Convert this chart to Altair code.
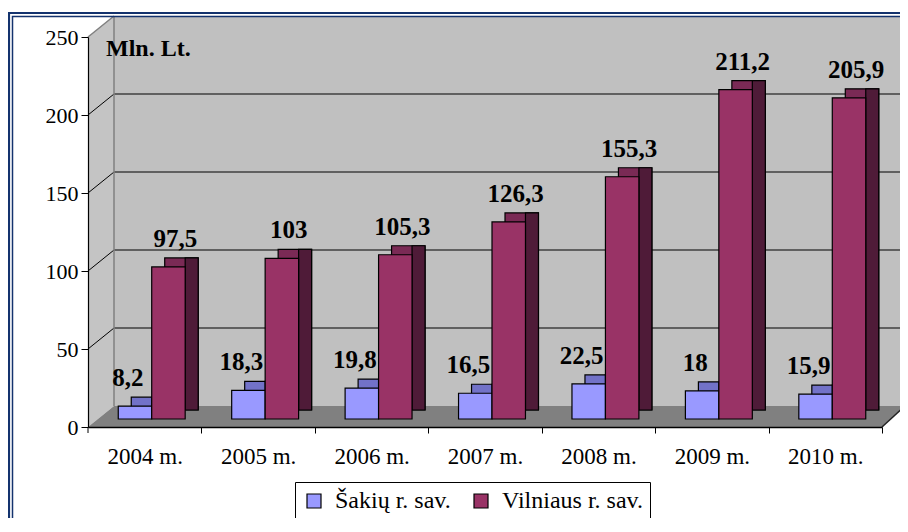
import altair as alt
import pandas as pd

# ---------------- data ----------------
years = ["2004 m.", "2005 m.", "2006 m.", "2007 m.", "2008 m.", "2009 m.", "2010 m."]
series = ["Šakių r. sav.", "Vilniaus r. sav."]
sakiai = [8.2, 18.3, 19.8, 16.5, 22.5, 18, 15.9]
vilnius = [97.5, 103, 105.3, 126.3, 155.3, 211.2, 205.9]
y_ticks = [0, 50, 100, 150, 200, 250]
grid_ticks = [50, 100, 150, 200]
unit_label = "Mln. Lt."

# ---------------- styles ----------------
front_colors = ["#9999FF", "#993366"]
top_colors = ["#7272C8", "#7A2A55"]
side_colors = ["#4C4C99", "#4F1B38"]
navy = "#14336E"
FONT = "Liberation Serif, Times New Roman, serif"

W, H = 794, 390          # front plane of the plot
DX, DY = 26, 21          # depth of the walls
DXR = 23                 # depth at the right end
BX, BY = 13, 9           # depth of a bar
BASE = 8                 # bars stand behind the front edge
SHIFT = 7                # horizontal shift of bars from perspective
STEP = W / len(years)
PAD_IN = 0.41
SUB = STEP * (1 - PAD_IN) / 2

rows = []
for i, yr in enumerate(years):
    rows.append({"year": yr, "series": series[0], "value": sakiai[i]})
    rows.append({"year": yr, "series": series[1], "value": vilnius[i]})
df = pd.DataFrame(rows)

x_scale = alt.Scale(domain=years, paddingInner=PAD_IN, paddingOuter=PAD_IN / 2)
y_scale = alt.Scale(domain=[0, 250], nice=False, zero=True)

one = pd.DataFrame({"k": [0]})


def xenc(axis=None):
    return alt.X("year:N", scale=x_scale, sort=years, axis=axis, title=None)


def xoenc(shift):
    return alt.XOffset(
        "series:N", sort=series,
        scale=alt.Scale(domain=series, paddingInner=0, paddingOuter=0,
                        range=[shift, shift + 2 * SUB]),
    )


def yenc(axis=None):
    return alt.Y("value:Q", scale=y_scale, axis=axis, title=None)


# ---------------- walls & floor ----------------
back_wall = alt.Chart(one).mark_rect(color="#C0C0C0").encode(
    x=alt.value(DX), x2=alt.value(W + DXR), y=alt.value(-DY), y2=alt.value(H - DY)
)

left_geo = pd.DataFrame({"px": [0, DX], "py": [0, -DY], "py2": [H, H - DY]})
left_wall = alt.Chart(left_geo).mark_area(color="#C4C4C4").encode(
    x=alt.X("px:Q", scale=None, axis=None),
    y=alt.Y("py:Q", scale=None, axis=None),
    y2="py2:Q",
)

floor_geo = pd.DataFrame({
    "px": [0, DX, W, W + DXR],
    "py": [H, H - DY, H - DY, H - DY],
    "py2": [H, H, H, H - DY],
})
floor = alt.Chart(floor_geo).mark_area(color="#808080").encode(
    x=alt.X("px:Q", scale=None, axis=None),
    y=alt.Y("py:Q", scale=None, axis=None),
    y2="py2:Q",
)

tick_df = pd.DataFrame({"tick": grid_ticks})
back_grid = alt.Chart(tick_df).mark_rule(color="black", strokeWidth=1, yOffset=-DY).encode(
    y=alt.Y("tick:Q", scale=y_scale, axis=None),
    x=alt.value(DX),
    x2=alt.value(W + DXR),
)
diag = alt.Chart(tick_df).mark_rule(color="black", strokeWidth=1, y2Offset=-DY).encode(
    y=alt.Y("tick:Q", scale=y_scale, axis=None),
    y2="tick:Q",
    x=alt.value(0),
    x2=alt.value(DX),
)
top_edge = alt.Chart(pd.DataFrame({"tick": [250]})).mark_rule(
    color="#808080", strokeWidth=1.5, y2Offset=-DY
).encode(
    y=alt.Y("tick:Q", scale=y_scale, axis=None),
    y2="tick:Q",
    x=alt.value(0),
    x2=alt.value(DX),
)
corner = alt.Chart(one).mark_rule(color="#808080", strokeWidth=1.5).encode(
    x=alt.value(DX), y=alt.value(-DY), y2=alt.value(H - DY)
)
floor_diag = alt.Chart(one).mark_rule(color="#222222", strokeWidth=1.5).encode(
    x=alt.value(W), x2=alt.value(W + DXR), y=alt.value(H), y2=alt.value(H - DY)
)
first_tick = alt.Chart(one).mark_rule(color="black", strokeWidth=1).encode(
    x=alt.value(0), y=alt.value(H), y2=alt.value(H + 6)
)

# ---------------- bars ----------------
bar_top = alt.Chart(df).mark_bar(
    yOffset=-BASE - BY, y2Offset=-BASE - BY, stroke="black", strokeWidth=1.2,
).encode(
    x=xenc(), xOffset=xoenc(SHIFT + BX), y=yenc(),
    color=alt.Color("series:N", scale=alt.Scale(domain=series, range=top_colors), legend=None),
)

bar_side = alt.Chart(df).mark_bar(
    width=BX, yOffset=-BASE - BY, y2Offset=-BASE - BY, stroke="black", strokeWidth=1.2,
).encode(
    x=xenc(), xOffset=xoenc(SHIFT + SUB / 2 + BX / 2), y=yenc(),
    color=alt.Color("series:N", scale=alt.Scale(domain=series, range=side_colors), legend=None),
)

x_axis = alt.Axis(
    labelAngle=0, labelFont=FONT, labelFontSize=23, labelColor="black",
    domainColor="black", domainWidth=1.5, tickColor="black", tickSize=6,
    tickOffset=STEP / 2, labelOffset=-STEP / 2, labelPadding=12,
    grid=False, zindex=1,
)
y_axis = alt.Axis(
    values=y_ticks, labelFont=FONT, labelFontSize=22, labelColor="black",
    domainColor="black", domainWidth=1.2, tickColor="black", tickSize=7,
    labelPadding=3, grid=False, zindex=1,
)

legend = alt.Legend(
    title=None, orient="none", legendX=207, legendY=445, direction="horizontal",
    symbolType="square", symbolSize=196, symbolStrokeColor="black", symbolStrokeWidth=1.2,
    labelFont=FONT, labelFontSize=24, labelColor="black", labelLimit=400,
    strokeColor="black", fillColor="white", padding=7, columnPadding=18, labelOffset=9,
)

bar_front = alt.Chart(df).mark_bar(
    yOffset=-BASE, y2Offset=-BASE, stroke="black", strokeWidth=1.2,
).encode(
    x=xenc(x_axis), xOffset=xoenc(SHIFT), y=yenc(y_axis),
    color=alt.Color("series:N", scale=alt.Scale(domain=series, range=front_colors),
                    sort=series, legend=legend),
)

# ---------------- value labels ----------------
def value_labels(name, dx):
    return alt.Chart(df).transform_filter(
        alt.datum.series == name
    ).transform_calculate(
        label="replace(toString(datum.value), '.', ',')"
    ).mark_text(
        yOffset=-BASE, dx=dx, dy=-20, baseline="alphabetic", align="center",
        font=FONT, fontSize=25, fontWeight="bold", color="black",
    ).encode(x=xenc(), y=yenc(), text="label:N")


labels_s = value_labels(series[0], SHIFT - SUB / 2 - 7)
labels_v = value_labels(series[1], SHIFT + SUB / 2 + 7)

unit = alt.Chart(pd.DataFrame({"t": [unit_label]})).mark_text(
    align="left", baseline="alphabetic", font=FONT, fontSize=24, fontWeight="bold",
    color="black",
).encode(x=alt.value(18), y=alt.value(19), text="t:N")

# ---------------- outer double border ----------------
border_outer = alt.Chart(one).mark_rect(fillOpacity=0, stroke=navy, strokeWidth=2.2).encode(
    x=alt.value(-79), x2=alt.value(W + 200), y=alt.value(-24), y2=alt.value(H + 200)
)
border_inner = alt.Chart(one).mark_rect(fillOpacity=0, stroke=navy, strokeWidth=1.5).encode(
    x=alt.value(-75.5), x2=alt.value(W + 196), y=alt.value(-20.5), y2=alt.value(H + 196)
)

chart = alt.layer(
    back_wall, left_wall, floor, back_grid, diag, top_edge, corner, floor_diag, first_tick,
    bar_top, bar_side, bar_front, labels_s, labels_v, unit, border_outer, border_inner,
).resolve_scale(
    x="independent", y="independent", xOffset="independent", color="independent"
).properties(
    width=W, height=H,
    padding={"left": 80, "top": 29, "right": 18, "bottom": 91},
    autosize=alt.AutoSizeParams(type="none"),
    background="white",
).configure_view(strokeWidth=0)

chart.save("out.html", embed_options={"renderer": "svg", "actions": False})
